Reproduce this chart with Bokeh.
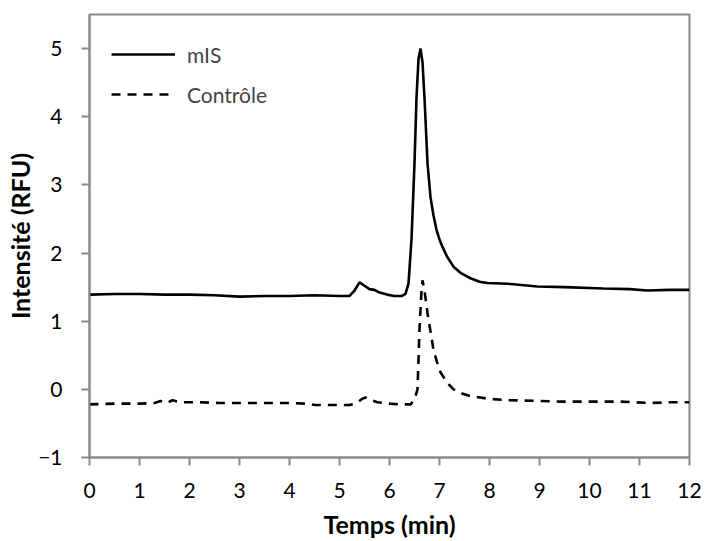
from bokeh.plotting import figure
from bokeh.models import Range1d, FixedTicker, Legend, LegendItem
from bokeh.embed import file_html
from bokeh.resources import INLINE

# mIS trace
t_mis = [0, 0.5, 1.0, 1.5, 2.0, 2.5, 3.0, 3.5, 4.0, 4.5, 5.0, 5.2, 5.3, 5.4, 5.5, 5.6,
         5.7, 5.8, 5.95, 6.1, 6.25, 6.32, 6.38, 6.44, 6.5, 6.54, 6.58, 6.62, 6.66, 6.7,
         6.76, 6.82, 6.88, 6.94, 7.0, 7.06, 7.15, 7.28, 7.42, 7.62, 7.8, 7.96, 8.36, 8.96,
         9.5, 10.28, 10.8, 11.16, 11.6, 12.0]
y_mis = [1.39, 1.40, 1.40, 1.39, 1.39, 1.38, 1.36, 1.37, 1.37, 1.38, 1.37, 1.37, 1.45, 1.57,
         1.52, 1.47, 1.46, 1.42, 1.39, 1.37, 1.37, 1.40, 1.55, 2.2, 3.32, 4.28, 4.85, 5.0,
         4.8, 4.28, 3.32, 2.82, 2.55, 2.34, 2.2, 2.09, 1.95, 1.80, 1.71, 1.63, 1.58, 1.56,
         1.55, 1.51, 1.50, 1.48, 1.47, 1.45, 1.46, 1.46]

# Contrôle trace
t_ctrl = [0, 0.5, 1.0, 1.3, 1.42, 1.55, 1.66, 1.76, 1.86, 2.2, 2.6, 3.0, 3.5, 4.0, 4.3, 4.52,
          4.8, 5.2, 5.35, 5.45, 5.52, 5.6, 5.76, 6.0, 6.2, 6.42, 6.5, 6.56, 6.6, 6.64, 6.66,
          6.7, 6.76, 6.82, 6.88, 6.95, 7.02, 7.15, 7.28, 7.45, 7.62, 8.0, 8.42, 9.0, 9.42,
          10.0, 10.6, 11.22, 11.6, 12.0]
y_ctrl = [-0.22, -0.21, -0.21, -0.20, -0.17, -0.20, -0.16, -0.18, -0.19, -0.19, -0.20, -0.20,
          -0.20, -0.20, -0.21, -0.23, -0.23, -0.23, -0.20, -0.14, -0.12, -0.15, -0.19, -0.21,
          -0.22, -0.22, -0.15, 0.0, 0.88, 1.45, 1.6, 1.45, 1.12, 0.85, 0.58, 0.40, 0.25, 0.10,
          0.0, -0.06, -0.10, -0.14, -0.16, -0.17, -0.18, -0.18, -0.18, -0.20, -0.19, -0.19]

x_ticks = list(range(0, 13))
y_ticks = [-1, 0, 1, 2, 3, 4, 5]
series_names = ["mIS", "Contrôle"]

FONT = "Lato"
GRAY = "#898989"

p = figure(width=705, height=541, output_backend="svg", toolbar_location=None,
           x_range=Range1d(0, 12), y_range=Range1d(-1, 5.5))
p.min_border_left = 89
p.min_border_right = 16
p.min_border_top = 14
p.min_border_bottom = 82
p.background_fill_color = "white"
p.border_fill_color = "white"
p.outline_line_color = GRAY
p.outline_line_width = 2
p.xgrid.visible = False
p.ygrid.visible = False

r1 = p.line(t_mis, y_mis, line_color="black", line_width=2.6)
r2 = p.line(t_ctrl, y_ctrl, line_color="black", line_width=2.6, line_dash="9 7")

for ax, ticks in ((p.xaxis[0], x_ticks), (p.yaxis[0], y_ticks)):
    ax.ticker = FixedTicker(ticks=ticks)
    ax.minor_tick_line_color = None
    ax.major_tick_in = 0
    ax.major_tick_out = 8
    ax.major_tick_line_color = GRAY
    ax.major_tick_line_width = 2
    ax.axis_line_color = GRAY
    ax.axis_line_width = 2
    ax.major_label_text_font = FONT
    ax.major_label_text_font_size = "21px"
    ax.major_label_text_color = "black"
    ax.axis_label_text_font = FONT
    ax.axis_label_text_font_size = "25px"
    ax.axis_label_text_font_style = "bold"
    ax.axis_label_text_color = "black"

p.xaxis.axis_label = "Temps (min)"
p.yaxis.axis_label = "Intensité (RFU)"
p.xaxis.major_label_standoff = 17
p.yaxis.major_label_standoff = 19
p.xaxis.axis_label_standoff = 8
p.yaxis.axis_label_standoff = 0

legend = Legend(items=[LegendItem(label=series_names[0], renderers=[r1]),
                       LegendItem(label=series_names[1], renderers=[r2])],
                location=(22, 348))
legend.border_line_color = None
legend.background_fill_alpha = 0
legend.label_text_font = FONT
legend.label_text_font_size = "21px"
legend.glyph_width = 64
legend.glyph_height = 30
legend.label_height = 30
legend.spacing = 10
legend.margin = 0
legend.padding = 0
legend.label_standoff = 12
p.add_layout(legend)

open("out.html", "w").write(file_html(p, INLINE))
